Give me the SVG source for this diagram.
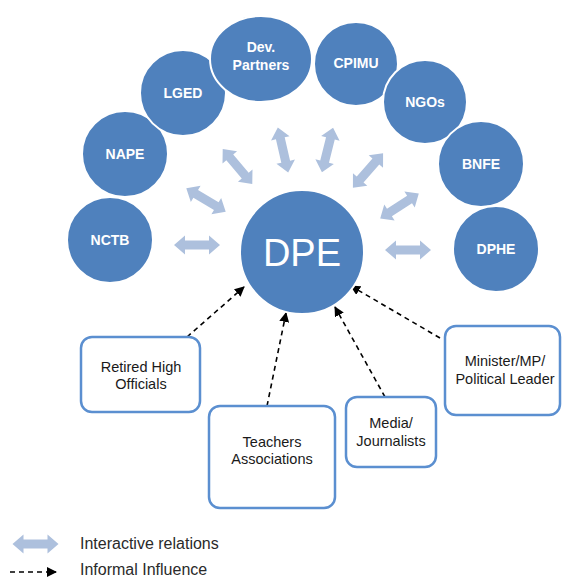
<svg xmlns="http://www.w3.org/2000/svg" xmlns:xlink="http://www.w3.org/1999/xlink" width="564" height="579" viewBox="0 0 564 579">
<style>
.node{fill:#4F81BD;stroke:#ffffff;stroke-width:2}
.nt{font-family:"Liberation Sans",Arial,sans-serif;font-size:14px;font-weight:bold;fill:#ffffff;text-anchor:middle}
.box{fill:#ffffff;stroke:#5B8FD0;stroke-width:2.5}
.bt{font-family:"Liberation Sans",Arial,sans-serif;font-size:14.5px;fill:#1a1a1a;text-anchor:middle}
.dash{fill:none;stroke:#000000;stroke-width:1.6;stroke-dasharray:5,4}
.fat{fill:#ADC0DD}
.lt{font-family:"Liberation Sans",Arial,sans-serif;font-size:16px;fill:#2a2a2a}
</style>
<defs>
<path id="dbl" d="M -23 0 L -12 -9.5 L -12 -4.5 L 12 -4.5 L 12 -9.5 L 23 0 L 12 9.5 L 12 4.5 L -12 4.5 L -12 9.5 Z"/>
<marker id="ah" viewBox="0 0 10 10" refX="9" refY="5" markerWidth="10" markerHeight="10" markerUnits="userSpaceOnUse" orient="auto">
<path d="M0 0 L10 5 L0 10 Z" fill="#000000"/>
</marker>
</defs>

<g id="connectors">
<use xlink:href="#dbl" class="fat" transform="translate(197,245)"/>
<use xlink:href="#dbl" class="fat" transform="translate(206,200) rotate(31)"/>
<use xlink:href="#dbl" class="fat" transform="translate(237.5,166.5) rotate(50)"/>
<use xlink:href="#dbl" class="fat" transform="translate(283,150) rotate(77)"/>
<use xlink:href="#dbl" class="fat" transform="translate(327.5,150) rotate(104)"/>
<use xlink:href="#dbl" class="fat" transform="translate(368,170.5) rotate(131)"/>
<use xlink:href="#dbl" class="fat" transform="translate(399.5,206) rotate(147)"/>
<use xlink:href="#dbl" class="fat" transform="translate(408,250)"/>
<line class="dash" x1="187" y1="337" x2="244" y2="287" marker-end="url(#ah)"/>
<line class="dash" x1="267" y1="406" x2="286" y2="313" marker-end="url(#ah)"/>
<line class="dash" x1="385" y1="397" x2="335" y2="307" marker-end="url(#ah)"/>
<line class="dash" x1="440" y1="338" x2="351" y2="286" marker-end="url(#ah)"/>
</g>

<g id="NCTB"><circle class="node" cx="110" cy="240" r="43"/><text class="nt" x="110" y="245">NCTB</text></g>
<g id="NAPE"><circle class="node" cx="125" cy="154" r="43"/><text class="nt" x="125" y="159">NAPE</text></g>
<g id="LGED"><circle class="node" cx="183" cy="93" r="43"/><text class="nt" x="183" y="98">LGED</text></g>
<g id="DevPartners"><ellipse class="node" cx="261" cy="59" rx="51" ry="43"/><text class="nt" x="261" y="52">Dev.</text><text class="nt" x="261" y="70">Partners</text></g>
<g id="CPIMU"><circle class="node" cx="356" cy="64" r="42"/><text class="nt" x="356" y="68">CPIMU</text></g>
<g id="NGOs"><circle class="node" cx="425" cy="102" r="42"/><text class="nt" x="425" y="107">NGOs</text></g>
<g id="BNFE"><circle class="node" cx="481" cy="164" r="43"/><text class="nt" x="481" y="169">BNFE</text></g>
<g id="DPHE"><circle class="node" cx="496" cy="249" r="43"/><text class="nt" x="496" y="254">DPHE</text></g>
<g id="DPE"><circle class="node" cx="302" cy="252" r="62"/><text x="302" y="266" text-anchor="middle" font-family="Liberation Sans,Arial,sans-serif" font-size="38" fill="#ffffff">DPE</text></g>

<g id="Retired"><rect class="box" x="81" y="337" width="119" height="75" rx="11"/><text class="bt" x="141" y="372">Retired High</text><text class="bt" x="141" y="389">Officials</text></g>
<g id="Teachers"><rect class="box" x="209" y="406" width="126" height="102" rx="11"/><text class="bt" x="272" y="447">Teachers</text><text class="bt" x="272" y="464">Associations</text></g>
<g id="Media"><rect class="box" x="346" y="397" width="90" height="70" rx="11"/><text class="bt" x="391" y="428">Media/</text><text class="bt" x="391" y="446">Journalists</text></g>
<g id="Minister"><rect class="box" x="445" y="326" width="115" height="89" rx="11"/><text class="bt" x="505" y="366">Minister/MP/</text><text class="bt" x="505" y="384">Political Leader</text></g>

<g id="legend">
<use xlink:href="#dbl" class="fat" transform="translate(35.5,544)"/>
<text class="lt" x="80" y="549">Interactive relations</text>
<line class="dash" x1="10" y1="572" x2="56" y2="572" marker-end="url(#ah)"/>
<text class="lt" x="80" y="575">Informal Influence</text>
</g>
</svg>
